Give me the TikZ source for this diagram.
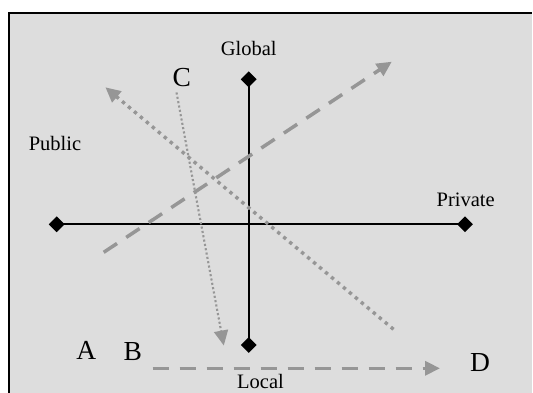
\documentclass[tikz,border=0pt]{standalone}
\usepackage{fontspec}
\setmainfont{Liberation Serif}
\usetikzlibrary{shapes.geometric,arrows.meta}
\definecolor{panelgray}{RGB}{221,221,221}
\definecolor{arrowgray}{RGB}{150,150,150}
\begin{document}
\begin{tikzpicture}[x=1pt, y=-1pt]
        % Style definitions
        \tikzset{
            axis/.style={black, line width=1.9pt},
            endpt/.style={diamond, fill=black, inner sep=0pt, minimum size=16pt},
            lbl/.style={font=\fontsize{20.5}{24}\selectfont, anchor=base, inner sep=0pt},
            letter/.style={font=\fontsize{27.5}{32}\selectfont, anchor=base, inner sep=0pt},
            tip/.style={-{Triangle[length=15pt, width=14pt]}},
            dashmove/.style={tip, arrowgray, line width=3.5pt, dash pattern=on 16pt off 11pt},
            dotmove/.style={tip, arrowgray, line width=3.4pt, dash pattern=on 3.4pt off 4.4pt},
            thinmove/.style={tip, arrowgray, line width=2.1pt, dash pattern=on 2.1pt off 2.3pt}
        }
        \useasboundingbox (0,0) rectangle (533,393);

        % ==========================================
        % PANEL
        % ==========================================
        \fill[panelgray] (9,13) rectangle (532,393);
        \draw[black, line width=2pt] (9,393) -- (9,13) -- (532,13);

        % ==========================================
        % AXES (Global/Local, Public/Private)
        % ==========================================
        \node[endpt] (gtip) at (248.7,79.3) {};
        \node[endpt] (ltip) at (248.7,345) {};
        \node[endpt] (pubtip) at (56.7,224.3) {};
        \node[endpt] (privtip) at (465,224.3) {};
        \draw[axis] (gtip.center) -- (ltip.center);
        \draw[axis] (pubtip.center) -- (privtip.center);

        \node[lbl] (global) at (248.7,56) {Global};
        \node[lbl] (local) at (260.5,388.5) {Local};
        \node[lbl] (public) at (55,150) {Public};
        \node[lbl] (private) at (465.7,207) {Private};

        % ==========================================
        % MOVES
        % ==========================================
        \node[letter] (a) at (86.3,359.3) {A};
        \node[letter] (b) at (132.8,360.5) {B};
        \node[letter] (c) at (181.7,86.5) {C};
        \node[letter] (d) at (480,371.5) {D};

        \coordinate (up1) at (103.7,252.3);
        \coordinate (up2) at (391.8,61.7);
        \coordinate (dg1) at (393.5,329.3);
        \coordinate (dg2) at (105.4,87.3);
        \coordinate (dn1) at (176.5,92.5);
        \coordinate (dn2) at (223.8,345.5);
        \coordinate (rt1) at (152.7,368.3);
        \coordinate (rt2) at (440,368.3);

        % Dashed rise to the upper right
        \draw[dashmove] (up1) -- (up2);
        % Dotted line back to the upper left
        \draw[dotmove] (dg1) -- (dg2);
        % Thin dotted drop from C
        \draw[thinmove] (dn1) -- (dn2);
        % Dashed run towards D
        \draw[dashmove] (rt1) -- (rt2);

    \end{tikzpicture}
\end{document}
